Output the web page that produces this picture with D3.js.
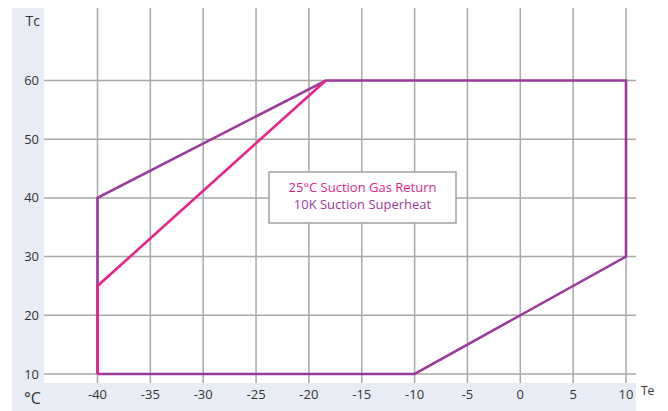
<!DOCTYPE html>
<html><head><meta charset="utf-8">
<script src="https://cdn.jsdelivr.net/npm/d3@7"></script>
<style>body{margin:0;background:#fff}svg{display:block}text{font-family:"Open Sans",sans-serif;fill:#333}</style>
</head><body><svg id="c" width="668" height="411"></svg>
<script>
const xTicks = [-40,-35,-30,-25,-20,-15,-10,-5,0,5,10];
const yTicks = [10,20,30,40,50,60];
const envelopeTe = [-40,-40,-18.4,10,10,-10,-40];
const envelopeTc = [10,40,60,60,30,10,10];
const gasReturnTe = [-40,-40,-18.4];
const gasReturnTc = [10,25,60];
const legendLines = ["25°C Suction Gas Return","10K Suction Superheat"];

(function(){
const svg = d3.select("#c");
const x = d3.scaleLinear().domain([-40,10]).range([97.5,626]);
const y = d3.scaleLinear().domain([10,60]).range([374,80.5]);
const pL=44,pR=636,pT=8,pB=383;

// bands
svg.append("rect").attr("x",12).attr("y",pT).attr("width",pL-12).attr("height",411-pT).attr("fill","#e8edf5");
svg.append("rect").attr("x",12).attr("y",pB).attr("width",pR-12).attr("height",411-pB).attr("fill","#e8edf5");

// grid
svg.append("g").selectAll("line").data(xTicks).join("line")
  .attr("x1",d=>x(d)).attr("x2",d=>x(d)).attr("y1",pT).attr("y2",pB)
  .attr("stroke","#a8a8a8").attr("stroke-width",1.5);
svg.append("g").selectAll("line").data(yTicks).join("line")
  .attr("x1",pL).attr("x2",pR).attr("y1",d=>y(d)).attr("y2",d=>y(d))
  .attr("stroke","#a8a8a8").attr("stroke-width",1.5);

// tick labels
svg.append("g").selectAll("text").data(xTicks).join("text")
  .attr("x",d=>x(d)).attr("y",399).attr("text-anchor","middle").attr("font-size",13).text(d=>d);
svg.append("g").selectAll("text").data(yTicks).join("text")
  .attr("x",39).attr("y",d=>y(d)+4.5).attr("text-anchor","end").attr("font-size",13).text(d=>d);
svg.append("text").attr("x",40).attr("y",26).attr("text-anchor","end").attr("font-size",14).text("Tc");
svg.append("text").attr("x",641).attr("y",395).attr("font-size",12).text("Te");
svg.append("text").attr("x",24).attr("y",404).attr("font-size",16).text("°C");

// lines
const line = d3.line().x(d=>x(d[0])).y(d=>y(d[1]));
svg.append("path").attr("d",line(envelopeTe.map((t,i)=>[t,envelopeTc[i]])))
  .attr("fill","none").attr("stroke","#9b3a9b").attr("stroke-width",2.6).attr("stroke-linejoin","miter");
svg.append("path").attr("d",line(gasReturnTe.map((t,i)=>[t,gasReturnTc[i]])))
  .attr("fill","none").attr("stroke","#e8238b").attr("stroke-width",2.6);

// legend
svg.append("rect").attr("x",269).attr("y",172).attr("width",187).attr("height",51)
  .attr("fill","#fff").attr("stroke","#a0a0a0").attr("stroke-width",1.5);
svg.append("text").attr("x",362.5).attr("y",191.5).attr("text-anchor","middle").attr("font-size",13)
  .style("fill","#e8238b").text(legendLines[0]);
svg.append("text").attr("x",362.5).attr("y",208.5).attr("text-anchor","middle").attr("font-size",13)
  .style("fill","#9b3a9b").text(legendLines[1]);
})();
</script></body></html>
